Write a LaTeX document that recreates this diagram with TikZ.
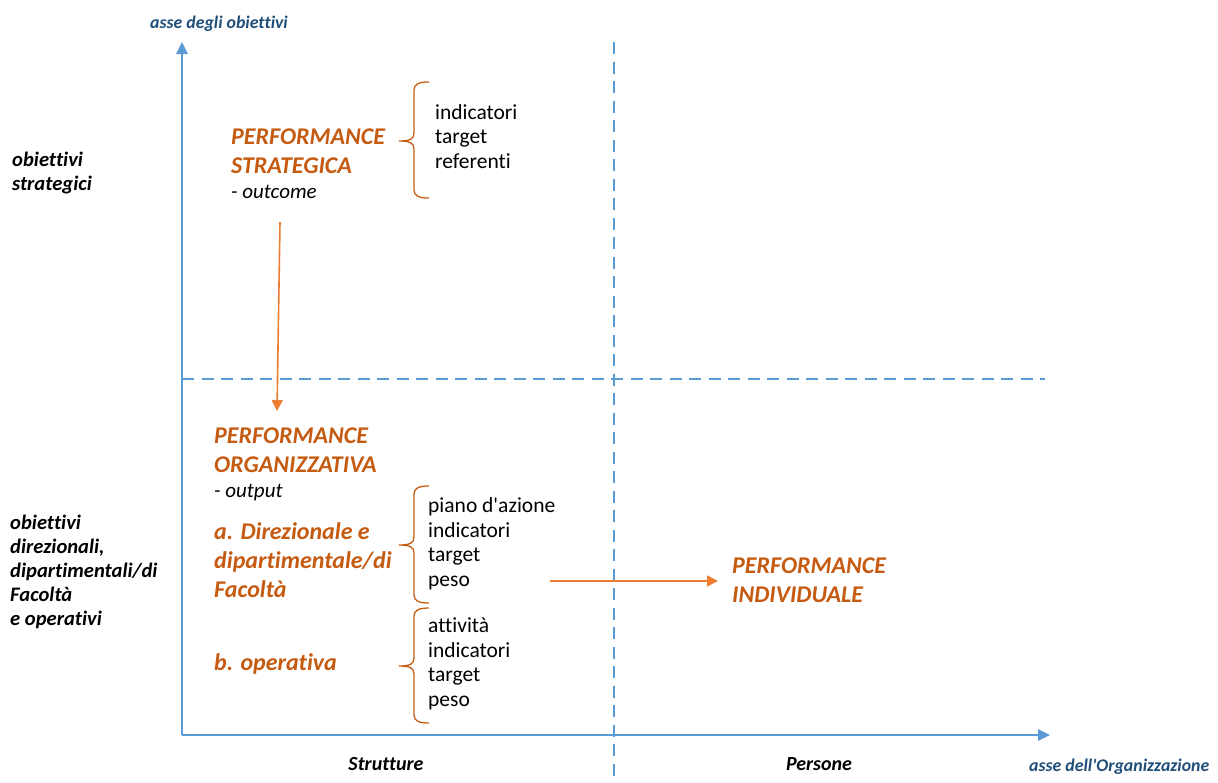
\documentclass[tikz,border=0pt]{standalone}
\usepackage{fontspec}
\setmainfont{Carlito}[Ligatures={TeXOff,NoCommon}]
\usetikzlibrary{arrows.meta}
\definecolor{axblue}{HTML}{5B9BD5}
\definecolor{labblue}{HTML}{1F4E79}
\definecolor{ortext}{HTML}{C55A11}
\definecolor{orarrow}{HTML}{ED7D31}
\newcommand\drawbrace[3]{%
  \draw[brace] (429,#1) .. controls (419,#1) and (414,#1+2) .. (414,#1+8) -- (414,#2-8)
    .. controls (414,#2-2) and (410,#2) .. (399,#2)
    .. controls (410,#2) and (414,#2+2) .. (414,#2+8) -- (414,#3-8)
    .. controls (414,#3-2) and (419,#3) .. (429,#3);}
\begin{document}
\begin{tikzpicture}[x=1pt,y=-1pt,
 axis/.style={draw=axblue,line width=2.5pt,-{Triangle[length=12pt,width=11pt]}},
 dashline/.style={draw=axblue,line width=2.6pt,dash pattern=on 12pt off 7.5pt},
 perf/.style={font=\fontsize{24}{28.7}\selectfont\bfseries\itshape,text=ortext,inner sep=0pt,align=left,anchor=base west},
 sub/.style={font=\fontsize{21}{25}\selectfont\itshape,inner sep=0pt,anchor=base west},
 items/.style={font=\fontsize{21.5}{24.5}\selectfont,inner sep=0pt,align=left,anchor=base west},
 side/.style={font=\fontsize{20.6}{24}\selectfont\bfseries\itshape,inner sep=0pt,align=left,anchor=base west},
 axlab/.style={font=\fontsize{17.8}{20}\selectfont\bfseries\itshape,text=labblue,inner sep=0pt,anchor=base west},
 bottomlab/.style={font=\fontsize{20}{24}\selectfont\bfseries\itshape,inner sep=0pt,anchor=base},
 flow/.style={draw=orarrow,line width=1.6pt,-{Triangle[length=11pt,width=11pt]}},
 brace/.style={draw=ortext,line width=1.3pt}
]
\useasboundingbox (0,0) rectangle (1218,782);
% axes
\coordinate (O) at (182,735);
\coordinate (Ytop) at (182,42);
\coordinate (Xend) at (1050,735);
\coordinate (Vt) at (614,42);
\coordinate (Vb) at (614,782);
\coordinate (Hl) at (182,379);
\coordinate (Hr) at (1045,379);
\draw[dashline] (Vt) -- (Vb);
\draw[dashline] (Hl) -- (Hr);
\draw[axis] (O) -- (Ytop);
\draw[axis] (O) -- (Xend);
% axis labels
\node[axlab] (ay) at (150,28) {asse degli obiettivi};
\node[axlab] (ax) at (1029,771) {asse dell'Organizzazione};
\node[bottomlab] (st) at (386,770) {Strutture};
\node[bottomlab] (pe) at (819,770) {Persone};
% side labels
\node[side] (os) at (12,190) {obiettivi\\strategici};
\node[side] (od) at (10,625) {obiettivi\\direzionali,\\dipartimentali/di\\Facoltà\\e operativi};
% performance texts
\node[perf] (ps) at (231,173) {PERFORMANCE\\STRATEGICA};
\node[sub] (out1) at (231,198) {- outcome};
\node[items] (it1) at (435,168) {indicatori\\target\\referenti};
\node[perf] (po) at (214,472) {PERFORMANCE\\ORGANIZZATIVA};
\node[sub] (out2) at (214,497) {- output};
\node[perf] (pa) at (214,597) {a. Direzionale e\\dipartimentale/di\\Facoltà};
\node[perf] (pb) at (214,670) {b. operativa};
\node[items] (it2) at (428,586) {piano d'azione\\indicatori\\target\\peso};
\node[items] (it3) at (428,706) {attività\\indicatori\\target\\peso};
\node[perf] (pi) at (732,602) {PERFORMANCE\\INDIVIDUALE};
% braces
\drawbrace{82}{141}{198}
\drawbrace{486}{545}{603}
\drawbrace{608}{666}{723}
% flow arrows
\coordinate (a1s) at (280,222);
\coordinate (a1e) at (277,411);
\coordinate (a2s) at (550,581);
\coordinate (a2e) at (718,581);
\draw[flow] (a1s) -- (a1e);
\draw[flow] (a2s) -- (a2e);
\end{tikzpicture}
\end{document}
